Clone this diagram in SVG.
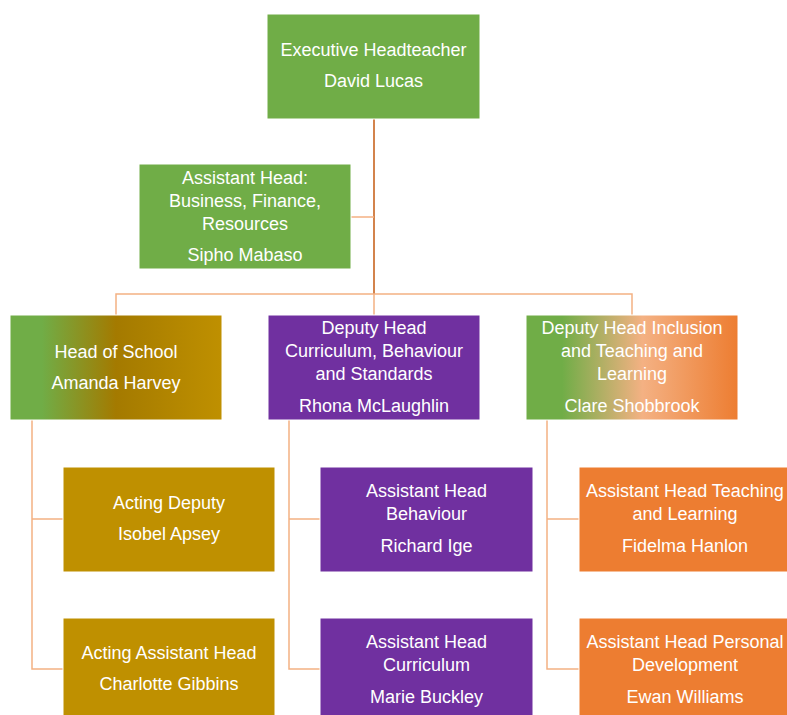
<svg xmlns="http://www.w3.org/2000/svg" width="787" height="715" viewBox="0 0 787 715">
<style>
.box{stroke:#ffffff;stroke-width:1}
.t{font-family:"Liberation Sans",Arial,sans-serif;font-size:18px;fill:#ffffff;text-anchor:middle}
.c{fill:none;stroke:#F4B183;stroke-width:1.5}
.cd{fill:none;stroke:#C55A11;stroke-width:1.5}
</style>
<defs>
<linearGradient id="gGold" x1="0" y1="0" x2="1" y2="0">
<stop offset="0" stop-color="#70AD47"/>
<stop offset="0.15" stop-color="#70AD47"/>
<stop offset="0.5" stop-color="#A47A00"/>
<stop offset="1" stop-color="#BF9000"/>
</linearGradient>
<linearGradient id="gOrange" x1="0" y1="0" x2="1" y2="0">
<stop offset="0" stop-color="#70AD47"/>
<stop offset="0.17" stop-color="#70AD47"/>
<stop offset="0.55" stop-color="#F4B183"/>
<stop offset="1" stop-color="#ED7D31"/>
</linearGradient>
</defs>
<rect width="787" height="715" fill="#ffffff"/>
<g id="connectors">
<path class="cd" d="M374 118 V294"/>
<path class="c" d="M351 217 H374"/>
<path class="c" d="M116 315 V294 H632 V315 M374 294 V315"/>
<path class="c" d="M32 420 V669 H63 M32 519 H63"/>
<path class="c" d="M289 420 V669 H320 M289 519 H320"/>
<path class="c" d="M547 420 V669 H579 M547 519 H579"/>
</g>
<g id="exec">
<rect class="box" x="267" y="14" width="213" height="105" fill="#70AD47"/>
<text class="t" x="373.5" y="56">Executive Headteacher</text>
<text class="t" x="373.5" y="87">David Lucas</text>
</g>
<g id="ah-bfr">
<rect class="box" x="139" y="164" width="212" height="105" fill="#70AD47"/>
<text class="t" x="245" y="184">Assistant Head:</text>
<text class="t" x="245" y="207">Business, Finance,</text>
<text class="t" x="245" y="230">Resources</text>
<text class="t" x="245" y="261">Sipho Mabaso</text>
</g>
<g id="head-school">
<rect class="box" x="10" y="315" width="212" height="105" fill="url(#gGold)"/>
<text class="t" x="116" y="358">Head of School</text>
<text class="t" x="116" y="389">Amanda Harvey</text>
</g>
<g id="deputy-cbs">
<rect class="box" x="268" y="315" width="212" height="105" fill="#7030A0"/>
<text class="t" x="374" y="334">Deputy Head</text>
<text class="t" x="374" y="357">Curriculum, Behaviour</text>
<text class="t" x="374" y="380">and Standards</text>
<text class="t" x="374" y="412">Rhona McLaughlin</text>
</g>
<g id="deputy-inclusion">
<rect class="box" x="526" y="315" width="212" height="105" fill="url(#gOrange)"/>
<text class="t" x="632" y="334">Deputy Head Inclusion</text>
<text class="t" x="632" y="357">and Teaching and</text>
<text class="t" x="632" y="380">Learning</text>
<text class="t" x="632" y="412">Clare Shobbrook</text>
</g>
<g id="acting-deputy">
<rect class="box" x="63" y="467" width="212" height="105" fill="#BF9000"/>
<text class="t" x="169" y="509">Acting Deputy</text>
<text class="t" x="169" y="540">Isobel Apsey</text>
</g>
<g id="acting-ah">
<rect class="box" x="63" y="618" width="212" height="105" fill="#BF9000"/>
<text class="t" x="169" y="659">Acting Assistant Head</text>
<text class="t" x="169" y="690">Charlotte Gibbins</text>
</g>
<g id="ah-behaviour">
<rect class="box" x="320" y="467" width="213" height="105" fill="#7030A0"/>
<text class="t" x="426.5" y="497">Assistant Head</text>
<text class="t" x="426.5" y="520">Behaviour</text>
<text class="t" x="426.5" y="552">Richard Ige</text>
</g>
<g id="ah-curriculum">
<rect class="box" x="320" y="618" width="213" height="105" fill="#7030A0"/>
<text class="t" x="426.5" y="648">Assistant Head</text>
<text class="t" x="426.5" y="671">Curriculum</text>
<text class="t" x="426.5" y="703">Marie Buckley</text>
</g>
<g id="ah-tl">
<rect class="box" x="579" y="467" width="213" height="105" fill="#ED7D31"/>
<text class="t" x="685" y="497">Assistant Head Teaching</text>
<text class="t" x="685" y="520">and Learning</text>
<text class="t" x="685" y="552">Fidelma Hanlon</text>
</g>
<g id="ah-pd">
<rect class="box" x="579" y="618" width="213" height="105" fill="#ED7D31"/>
<text class="t" x="685" y="648">Assistant Head Personal</text>
<text class="t" x="685" y="671">Development</text>
<text class="t" x="685" y="703">Ewan Williams</text>
</g>
</svg>
